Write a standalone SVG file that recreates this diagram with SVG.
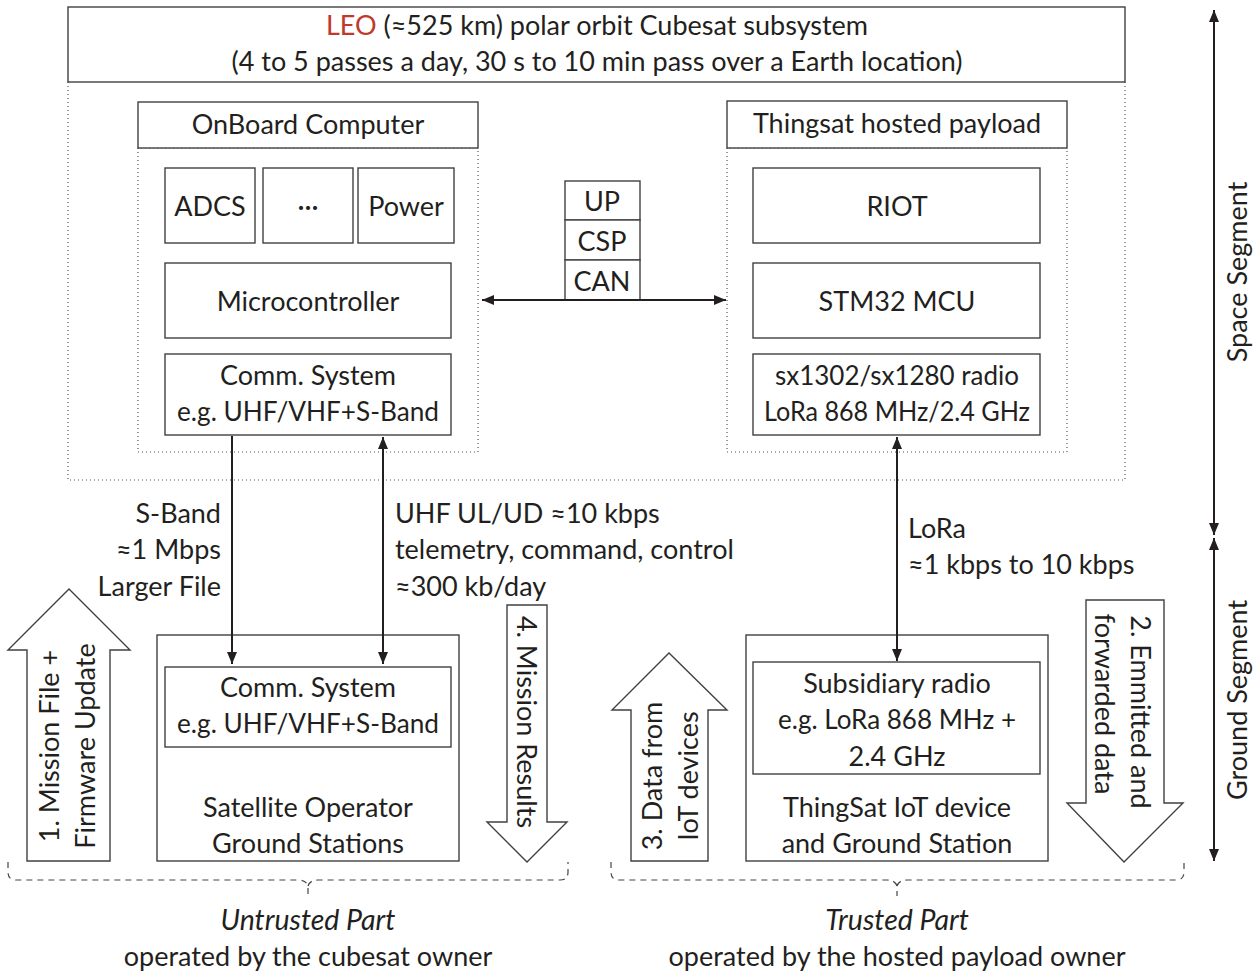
<svg xmlns="http://www.w3.org/2000/svg" width="1258" height="974" viewBox="0 0 1258 974">
  <style>
    text { font-family: "Lato", "Liberation Sans", sans-serif; font-size: 27px; fill: #231f20; }
    .c { text-anchor: middle; }
    .r { text-anchor: end; }
    .it { font-style: italic; font-size: 28.5px; }
    .box { fill: #ffffff; stroke: #404040; stroke-width: 1.4; }
    .dot { fill: none; stroke: #555; stroke-width: 1.2; stroke-dasharray: 1 3; }
    .ln { fill: none; stroke: #231f20; stroke-width: 2; }
    .big { fill: #ffffff; stroke: #404040; stroke-width: 1.4; }
    .brace { fill: none; stroke: #444; stroke-width: 1.2; stroke-dasharray: 6 5; }
    .red { fill: #c0392b; }
  </style>
  <defs>
    <marker id="ah" viewBox="0 0 12 10" refX="12" refY="5" markerWidth="12" markerHeight="10" markerUnits="userSpaceOnUse" orient="auto-start-reverse">
      <path d="M0,0 L12,5 L0,10 z" fill="#231f20"/>
    </marker>
  </defs>

  <!-- space segment outer area -->
  <g id="space-area">
    <path class="dot" d="M68,82 V480 H1125 V82"/>
  </g>

  <g id="leo-header">
    <rect class="box" x="68" y="7" width="1057" height="75"/>
    <text class="c" x="597" y="35"><tspan class="red">LEO</tspan> (≈525 km) polar orbit Cubesat subsystem</text>
    <text class="c" x="597" y="71">(4 to 5 passes a day, 30 s to 10 min pass over a Earth location)</text>
  </g>

  <!-- OnBoard Computer -->
  <g id="obc">
    <path class="dot" d="M138,148 V452 H478 V148 Z"/>
    <rect class="box" x="138" y="102" width="340" height="46"/>
    <text class="c" x="308" y="134">OnBoard Computer</text>
  </g>
  <g id="adcs">
    <rect class="box" x="165" y="168" width="90" height="75"/>
    <text class="c" x="210" y="216">ADCS</text>
  </g>
  <g id="other">
    <rect class="box" x="263" y="168" width="90" height="75"/>
    <text class="c" x="308" y="216">···</text>
  </g>
  <g id="power">
    <rect class="box" x="358" y="168" width="96" height="75"/>
    <text class="c" x="406" y="216">Power</text>
  </g>
  <g id="microcontroller">
    <rect class="box" x="165" y="263" width="286" height="75"/>
    <text class="c" x="308" y="311">Microcontroller</text>
  </g>
  <g id="obc-comm">
    <rect class="box" x="165" y="354" width="286" height="81"/>
    <text class="c" x="308" y="385">Comm. System</text>
    <text class="c" x="308" y="421" textLength="262" lengthAdjust="spacingAndGlyphs">e.g. UHF/VHF+S-Band</text>
  </g>

  <!-- bus protocol stack -->
  <g id="bus-stack">
    <rect class="box" x="565" y="181" width="75" height="39"/>
    <text class="c" x="602" y="211">UP</text>
    <rect class="box" x="565" y="220" width="75" height="40"/>
    <text class="c" x="602" y="251">CSP</text>
    <rect class="box" x="565" y="260" width="75" height="40"/>
    <text class="c" x="602" y="291">CAN</text>
  </g>

  <!-- Thingsat payload -->
  <g id="thingsat">
    <path class="dot" d="M727,148 V452 H1067 V148 Z"/>
    <rect class="box" x="727" y="101" width="340" height="47"/>
    <text class="c" x="897" y="133">Thingsat hosted payload</text>
  </g>
  <g id="riot">
    <rect class="box" x="753" y="168" width="287" height="75"/>
    <text class="c" x="897" y="216">RIOT</text>
  </g>
  <g id="stm32">
    <rect class="box" x="753" y="263" width="287" height="75"/>
    <text class="c" x="897" y="311">STM32 MCU</text>
  </g>
  <g id="sx-radio">
    <rect class="box" x="753" y="354" width="287" height="81"/>
    <text class="c" x="897" y="385" textLength="244" lengthAdjust="spacingAndGlyphs">sx1302/sx1280 radio</text>
    <text class="c" x="897" y="421" textLength="266" lengthAdjust="spacingAndGlyphs">LoRa 868 MHz/2.4 GHz</text>
  </g>

  <!-- ground stations -->
  <g id="operator-gs">
    <rect class="box" x="157" y="635" width="302" height="226"/>
    <rect class="box" x="165" y="667" width="286" height="80"/>
    <text class="c" x="308" y="697">Comm. System</text>
    <text class="c" x="308" y="733" textLength="262" lengthAdjust="spacingAndGlyphs">e.g. UHF/VHF+S-Band</text>
    <text class="c" x="308" y="817">Satellite Operator</text>
    <text class="c" x="308" y="853">Ground Stations</text>
  </g>
  <g id="thingsat-gs">
    <rect class="box" x="746" y="635" width="302" height="226"/>
    <rect class="box" x="753" y="662" width="287" height="112"/>
    <text class="c" x="897" y="693">Subsidiary radio</text>
    <text class="c" x="897" y="729" textLength="238" lengthAdjust="spacingAndGlyphs">e.g. LoRa 868 MHz +</text>
    <text class="c" x="897" y="766">2.4 GHz</text>
    <text class="c" x="897" y="817">ThingSat IoT device</text>
    <text class="c" x="897" y="853">and Ground Station</text>
  </g>

  <!-- connectors -->
  <g id="connectors">
    <line class="ln" x1="482" y1="300" x2="726" y2="300" marker-start="url(#ah)" marker-end="url(#ah)"/>
    <line class="ln" x1="232" y1="436" x2="232" y2="664" marker-end="url(#ah)"/>
    <line class="ln" x1="383" y1="437" x2="383" y2="664" marker-start="url(#ah)" marker-end="url(#ah)"/>
    <line class="ln" x1="897" y1="437" x2="897" y2="661" marker-start="url(#ah)" marker-end="url(#ah)"/>
    <line class="ln" x1="1214" y1="10" x2="1214" y2="535" marker-start="url(#ah)" marker-end="url(#ah)"/>
    <line class="ln" x1="1214" y1="538" x2="1214" y2="861" marker-start="url(#ah)" marker-end="url(#ah)"/>
  </g>

  <!-- link labels -->
  <g id="sband-label">
    <text class="r" x="221" y="523">S-Band</text>
    <text class="r" x="221" y="559">≈1 Mbps</text>
    <text class="r" x="221" y="596">Larger File</text>
  </g>
  <g id="uhf-label">
    <text x="395" y="523">UHF UL/UD ≈10 kbps</text>
    <text x="395" y="559">telemetry, command, control</text>
    <text x="395" y="596">≈300 kb/day</text>
  </g>
  <g id="lora-label">
    <text x="908" y="538">LoRa</text>
    <text x="908" y="574">≈1 kbps to 10 kbps</text>
  </g>
  <g id="segment-labels">
    <text class="c" transform="translate(1247,272) rotate(-90)">Space Segment</text>
    <text class="c" transform="translate(1247,700) rotate(-90)">Ground Segment</text>
  </g>

  <!-- flow arrows -->
  <g id="flow-1">
    <path class="big" d="M27,861 V650 H8 L69,589 L130,650 H110 V861 Z"/>
    <text class="c" transform="translate(59,746) rotate(-90)">1. Mission File +</text>
    <text class="c" transform="translate(95,746) rotate(-90)">Firmware Update</text>
  </g>
  <g id="flow-4">
    <path class="big" d="M507,605 V822 H487 L527,862 L567,822 H547 V605 Z"/>
    <text class="c" transform="translate(517,722) rotate(90)">4. Mission Results</text>
  </g>
  <g id="flow-3">
    <path class="big" d="M631,861 V710 H612 L669,653 L727,710 H708 V861 Z"/>
    <text class="c" transform="translate(662,776) rotate(-90)">3. Data from</text>
    <text class="c" transform="translate(698,776) rotate(-90)">IoT devices</text>
  </g>
  <g id="flow-2">
    <path class="big" d="M1086,600 V803 H1067 L1124,862 L1183,803 H1164 V600 Z"/>
    <text class="c" transform="translate(1131,712) rotate(90)">2. Emmitted and</text>
    <text class="c" transform="translate(1095,704) rotate(90)">forwarded data</text>
  </g>

  <!-- trust zones -->
  <g id="untrusted">
    <path class="brace" d="M8,862 V872 Q8,880 16,880 H298 Q306,880 308,886 V896 M308,886 Q310,880 318,880 H560 Q568,880 568,872 V862"/>
    <text class="c it" x="308" y="930">Untrusted Part</text>
    <text class="c" x="308" y="966">operated by the cubesat owner</text>
  </g>
  <g id="trusted">
    <path class="brace" d="M611,862 V872 Q611,880 619,880 H887 Q895,880 897,886 V896 M897,886 Q899,880 907,880 H1176 Q1184,880 1184,872 V862"/>
    <text class="c it" x="897" y="930">Trusted Part</text>
    <text class="c" x="897" y="966">operated by the hosted payload owner</text>
  </g>
</svg>
